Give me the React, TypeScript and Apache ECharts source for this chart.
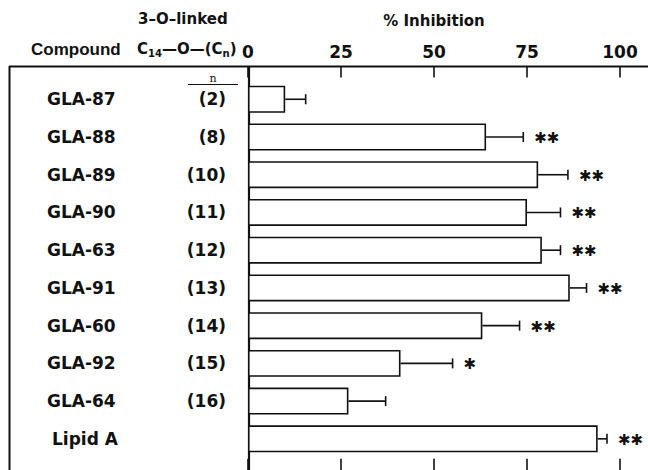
import React, { useEffect, useRef } from "react";
import * as echarts from "echarts";

const compounds = ["GLA-87", "GLA-88", "GLA-89", "GLA-90", "GLA-63", "GLA-91", "GLA-60", "GLA-92", "GLA-64", "Lipid A"];
const chainLengths = ["(2)", "(8)", "(10)", "(11)", "(12)", "(13)", "(14)", "(15)", "(16)", ""];
const inhibition = [10, 64, 78, 75, 79, 86.5, 63, 41, 27, 94];
const errors = [5.5, 10, 8, 9, 5, 4.5, 10, 14, 10, 2.5];
const significance = ["", "**", "**", "**", "**", "**", "**", "*", "", "**"];
const xMin = 0;
const xMax = 100;
const xStep = 25;

const INK = "#111";
const FONT = "DejaVu Sans";

export default function App() {
  const ref = useRef<HTMLDivElement>(null);

  useEffect(() => {
    if (!ref.current) return;
    const chart = echarts.init(ref.current, undefined, { renderer: "svg" });

    const option: any = {
      animation: false,
      backgroundColor: "#fff",
      grid: { left: 248, right: 28, top: 80.4, bottom: 12.3, containLabel: false },
      xAxis: [
        {
          type: "value",
          position: "top",
          min: xMin,
          max: xMax,
          interval: xStep,
          offset: 14,
          name: "% Inhibition",
          nameLocation: "middle",
          nameGap: 38,
          nameTextStyle: { fontFamily: FONT, fontWeight: "bold", fontSize: 15, color: INK },
          axisLine: { show: false },
          axisTick: { show: true, inside: true, length: 11, lineStyle: { color: INK, width: 1.6 } },
          axisLabel: { show: true, margin: 6, fontFamily: FONT, fontWeight: "bold", fontSize: 17, color: INK },
          splitLine: { show: false },
        },
        {
          type: "value",
          position: "bottom",
          min: xMin,
          max: xMax,
          interval: xStep,
          offset: 14,
          axisLine: { show: false },
          axisTick: { show: true, inside: true, length: 13, lineStyle: { color: INK, width: 1.6 } },
          axisLabel: { show: false },
          splitLine: { show: false },
        },
      ],
      yAxis: {
        type: "category",
        inverse: true,
        data: compounds,
        axisLine: { show: false },
        axisTick: { show: false },
        splitLine: { show: false },
        axisLabel: {
          align: "left",
          margin: 201,
          formatter: (value: string, index: number) =>
            chainLengths[index] ? `{a|${value}}{b|${chainLengths[index]}}` : `{c|${value}}`,
          rich: {
            a: { width: 130, align: "left", fontFamily: FONT, fontWeight: "bold", fontSize: 17, color: INK },
            b: { width: 49, align: "right", fontFamily: FONT, fontWeight: "bold", fontSize: 17, color: INK },
            c: { padding: [0, 0, 0, 5], fontFamily: FONT, fontWeight: "bold", fontSize: 17, color: INK },
          },
        },
      },
      series: [
        {
          type: "bar",
          xAxisIndex: 0,
          data: inhibition,
          barWidth: 27,
          itemStyle: { color: "#fff", borderColor: INK, borderWidth: 1.6 },
        },
        {
          type: "custom",
          xAxisIndex: 0,
          data: inhibition.map((m, i) => [m, m + errors[i], i]),
          encode: { x: [0, 1], y: 2 },
          renderItem: (params: any, api: any) => {
            const mean = api.value(0);
            const hi = api.value(1);
            const idx = api.value(2);
            const p0 = api.coord([mean, idx]);
            const p1 = api.coord([hi, idx]);
            const children: any[] = [
              { type: "line", shape: { x1: p0[0], y1: p0[1], x2: p1[0], y2: p1[1] }, style: { stroke: INK, lineWidth: 1.6 } },
              { type: "line", shape: { x1: p1[0], y1: p1[1] - 5, x2: p1[0], y2: p1[1] + 5 }, style: { stroke: INK, lineWidth: 1.6 } },
            ];
            const sig = significance[params.dataIndex];
            if (sig) {
              children.push({
                type: "text",
                x: p1[0] + 11,
                y: p1[1] + 1,
                style: {
                  text: sig.replace(/\*/g, "\u2731"),
                  fill: INK,
                  fontFamily: FONT,
                  fontSize: 15,
                  fontWeight: "bold",
                  align: "left",
                  verticalAlign: "middle",
                },
              });
            }
            return { type: "group", children };
          },
        },
      ],
      graphic: [
        { type: "line", shape: { x1: 9, y1: 66.5, x2: 648, y2: 66.5 }, style: { stroke: INK, lineWidth: 2 } },
        { type: "line", shape: { x1: 9.5, y1: 66, x2: 9.5, y2: 470 }, style: { stroke: INK, lineWidth: 2 } },
        { type: "line", shape: { x1: 249, y1: 66, x2: 249, y2: 470 }, style: { stroke: INK, lineWidth: 2.2 } },
        { type: "line", shape: { x1: 188, y1: 84.5, x2: 238, y2: 84.5 }, style: { stroke: INK, lineWidth: 1 } },
        {
          type: "text",
          x: 213,
          y: 78,
          style: { text: "n", fill: INK, fontFamily: "DejaVu Serif", fontSize: 11, align: "center", verticalAlign: "middle" },
        },
        {
          type: "text",
          x: 31,
          y: 49,
          style: { text: "Compound", fill: INK, fontFamily: "Liberation Sans", fontWeight: "bold", fontSize: 17, align: "left", verticalAlign: "middle" },
        },
        {
          type: "text",
          x: 138,
          y: 19,
          style: { text: "3\u2013O\u2013linked", fill: INK, fontFamily: FONT, fontWeight: "bold", fontSize: 15, align: "left", verticalAlign: "middle" },
        },
        {
          type: "text",
          x: 137,
          y: 49,
          style: {
            text: "{m|C}{s|14}{m|\u2014O\u2014(C}{s|n}{m|)}",
            align: "left",
            verticalAlign: "middle",
            rich: {
              m: { fontFamily: FONT, fontWeight: "bold", fontSize: 15, fill: INK, color: INK },
              s: { fontFamily: FONT, fontWeight: "bold", fontSize: 10, fill: INK, color: INK, padding: [8, 0, 0, 0] },
            },
          },
        },
      ],
    };

    chart.setOption(option);
    return () => chart.dispose();
  }, []);

  return (
    <div
      ref={ref}
      style={{ position: "fixed", left: 0, top: 0, width: 648, height: 470, background: "#fff" }}
    />
  );
}
